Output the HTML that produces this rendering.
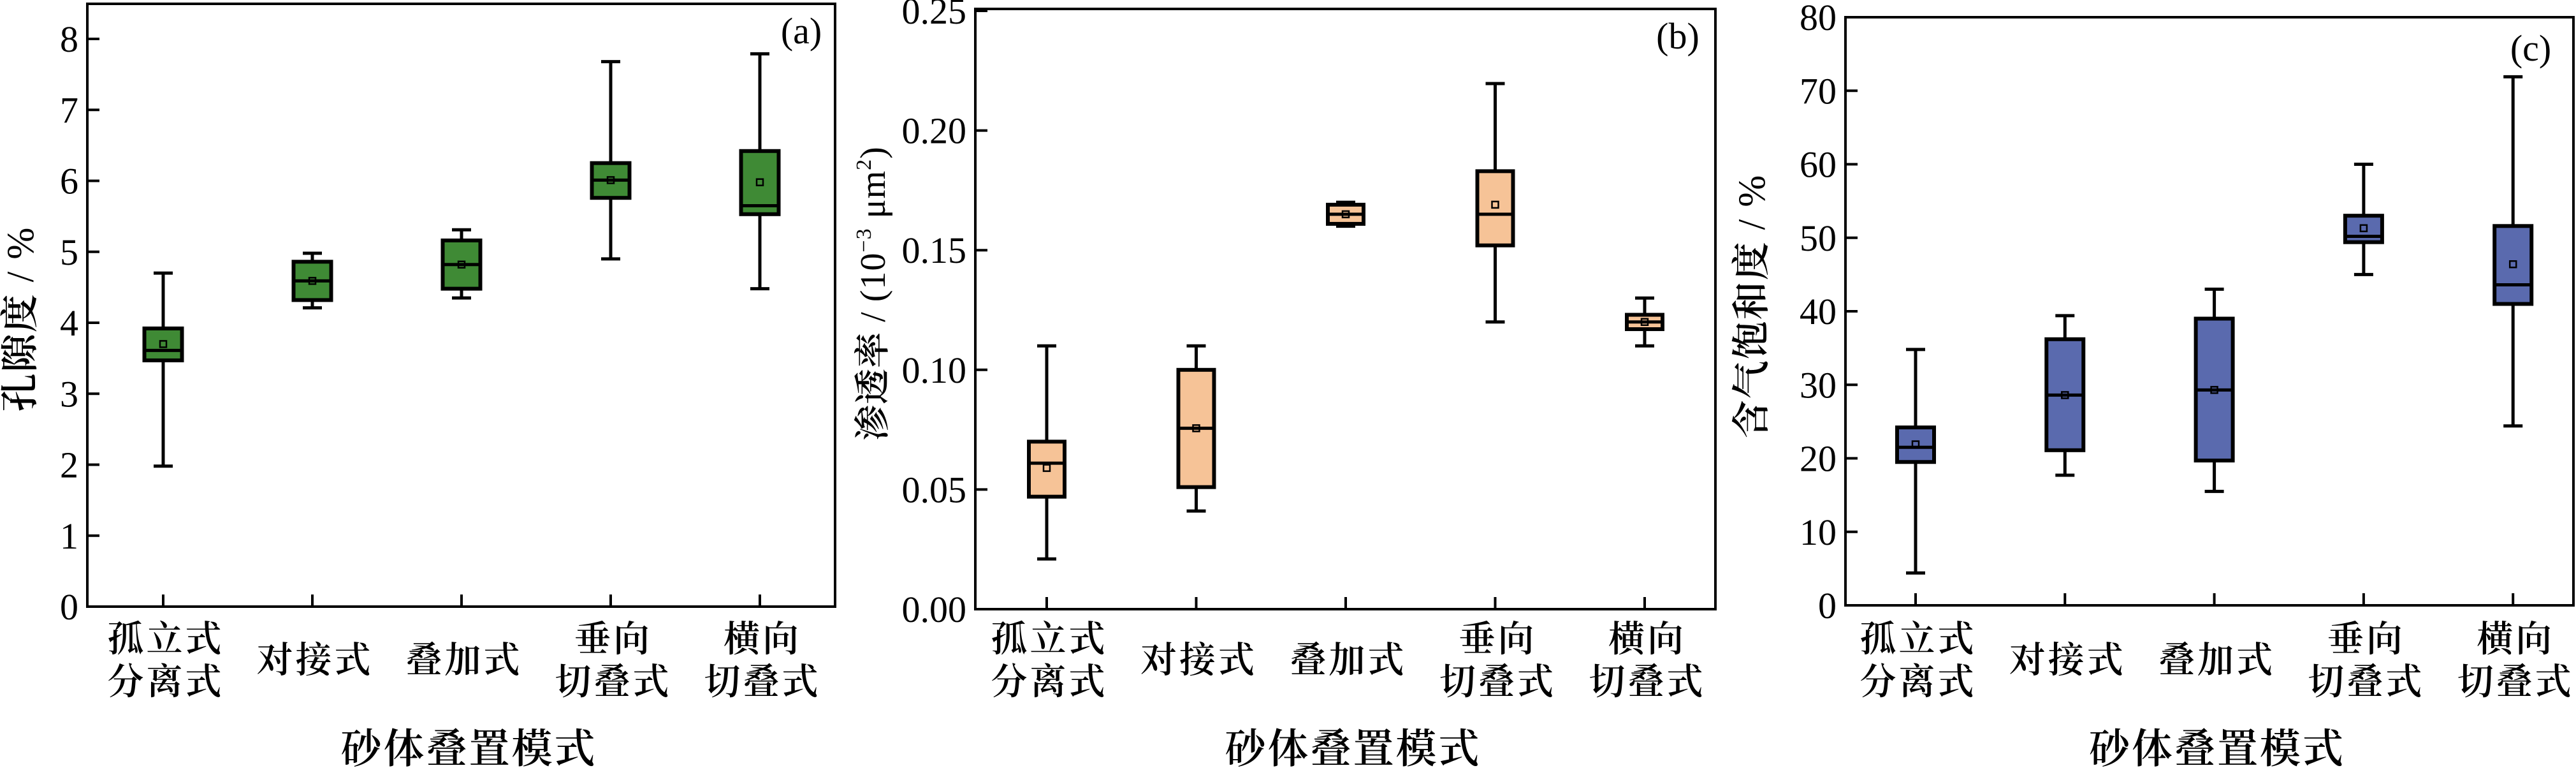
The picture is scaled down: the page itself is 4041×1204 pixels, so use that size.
<!DOCTYPE html>
<html><head><meta charset="utf-8"><style>
html,body{margin:0;padding:0;background:#fff;}
svg{display:block;}
text{font-family:"Liberation Serif","Noto Serif CJK SC","Noto Sans CJK SC",serif;fill:#000;}
</style></head><body>
<svg id="chart" width="4041" height="1204" viewBox="0 0 4041 1204" xmlns="http://www.w3.org/2000/svg"></svg>
<script>
const categories = ["孤立式\n分离式","对接式","叠加式","垂向\n切叠式","横向\n切叠式"];
// panel a: porosity %
const aWhiskerLow = [1.98,4.21,4.35,4.90,4.48];
const aQ1 = [3.47,4.32,4.48,5.76,5.53];
const aMedian = [3.61,4.59,4.82,6.01,5.65];
const aMean = [3.70,4.59,4.82,6.01,5.98];
const aQ3 = [3.92,4.86,5.16,6.25,6.42];
const aWhiskerHigh = [4.70,4.98,5.31,7.68,7.79];
const aTicks = ["0","1","2","3","4","5","6","7","8"];
// panel b: permeability
const bWhiskerLow = [0.021,0.041,0.160,0.120,0.110];
const bQ1 = [0.047,0.051,0.161,0.152,0.117];
const bMedian = [0.061,0.0756,0.165,0.165,0.120];
const bMean = [0.059,0.0756,0.165,0.169,0.120];
const bQ3 = [0.070,0.100,0.169,0.183,0.123];
const bWhiskerHigh = [0.110,0.110,0.170,0.2196,0.130];
const bTicks = ["0.00","0.05","0.10","0.15","0.20","0.25"];
// panel c: gas saturation %
const cWhiskerLow = [4.4,17.7,15.5,45.0,24.4];
const cQ1 = [19.5,21.1,19.7,49.4,41.0];
const cMedian = [21.5,28.6,29.3,50.2,43.6];
const cMean = [21.9,28.6,29.3,51.3,46.4];
const cQ3 = [24.2,36.2,39.0,53.0,51.6];
const cWhiskerHigh = [34.8,39.4,43.0,60.0,71.9];
const cTicks = ["0","10","20","30","40","50","60","70","80"];

const NS="http://www.w3.org/2000/svg";
const svg=document.getElementById('chart');
function mk(tag,attrs,parent){const e=document.createElementNS(NS,tag);for(const k in attrs)e.setAttribute(k,attrs[k]);(parent||svg).appendChild(e);return e;}

function panel(p){
  const g=mk('g',{});
  
  
  const y=v=>p.bottom-(v-p.ymin)/(p.ymax-p.ymin)*(p.bottom-p.ymaxPx);
  const x=i=>p.x0+i*p.dx;
  const frame=mk('rect',{x:p.left,y:p.top,width:p.right-p.left,height:p.bottom-p.top,fill:'none',stroke:'#000','stroke-width':4},g);
  
  
  p.ticks.forEach((t,i)=>{
    const v=p.ymin+i*p.step; const yy=y(v);
    const tk=mk('line',{x1:p.left,x2:p.left+19,y1:yy,y2:yy,stroke:'#000','stroke-width':4},g);
    
    
    const tl=mk('text',{x:p.left-14,y:yy+20,'font-size':58,'text-anchor':'end'},g);
    tl.textContent=t;
    
    
  });
  categories.forEach((c,i)=>{
    const xx=x(i);
    const tk=mk('line',{x1:xx,x2:xx,y1:p.bottom,y2:p.bottom-19,stroke:'#000','stroke-width':4},g);
    
    
    const lines=c.split('\n');
    const t=mk('text',{x:xx+4,'font-size':57,'font-weight':600,'text-anchor':'middle','letter-spacing':4},g);
    
    
    lines.forEach((ln,j)=>{
      const ts=mk('tspan',{x:xx+4,y:lines.length===1?1054:1021+j*67},t);ts.textContent=ln;
    });
    const ww=p.bw/2, cw=15;
    const wl=mk('line',{x1:xx,x2:xx,y1:y(p.wl[i]),y2:y(p.wh[i]),stroke:'#000','stroke-width':5},g);
    
    
    [p.wl[i],p.wh[i]].forEach(v=>{
      const cap=mk('line',{x1:xx-cw,x2:xx+cw,y1:y(v),y2:y(v),stroke:'#000','stroke-width':5},g);
      
      
    });
    const box=mk('rect',{x:xx-ww,y:y(p.q3[i]),width:p.bw,height:y(p.q1[i])-y(p.q3[i]),fill:p.color,stroke:'#000','stroke-width':6},g);
    
    
    const md=mk('line',{x1:xx-ww,x2:xx+ww,y1:y(p.med[i]),y2:y(p.med[i]),stroke:'#000','stroke-width':5},g);
    
    
    const mn=mk('rect',{x:xx-5,y:y(p.mean[i])-5,width:10,height:10,fill:'none',stroke:'#000','stroke-width':2.5},g);
    
    
  });
  const xt=mk('text',{x:(p.left+p.right)/2+12,y:1196,'font-size':64,'font-weight':600,'text-anchor':'middle','letter-spacing':3},g);
  xt.textContent='砂体叠置模式';
  
  
  const yt=mk('text',{x:0,y:0,'font-size':p.ytSize,'font-weight':600,'text-anchor':'middle','letter-spacing':p.ytls,transform:`translate(${p.ytx},${p.yty}) rotate(-90)`},g);
  yt.innerHTML=p.ytitle;
  
  
  const lb=mk('text',{x:p.labx,y:p.laby,'font-size':58,'text-anchor':'middle'},g);
  lb.textContent=p.label;
  
  
}

panel({id:'a',left:137,right:1310,top:6,bottom:951,ymin:0,ymax:8,ymaxPx:61,step:1,ticks:aTicks,x0:256,dx:234,bw:59,color:'#3f8a35',
  wl:aWhiskerLow,q1:aQ1,med:aMedian,mean:aMean,q3:aQ3,wh:aWhiskerHigh,ytitle:'孔隙度<tspan font-weight="normal"> / %</tspan>',ytSize:60,ytls:2,ytx:52,yty:500,label:'(a)',labx:1257,laby:68});
panel({id:'b',left:1530,right:2691,top:14,bottom:955,ymin:0,ymax:0.25,ymaxPx:17,step:0.05,ticks:bTicks,x0:1642,dx:234.5,bw:56,color:'#f6c397',
  wl:bWhiskerLow,q1:bQ1,med:bMedian,mean:bMean,q3:bQ3,wh:bWhiskerHigh,
  ytitle:'渗透率<tspan font-weight="normal"> / (10</tspan><tspan font-weight="normal" dy="-22" font-size="34">−3</tspan><tspan font-weight="normal" dy="22"> μm</tspan><tspan font-weight="normal" dy="-22" font-size="34">2</tspan><tspan font-weight="normal" dy="22">)</tspan>',ytSize:56,ytls:1,ytx:1388,yty:460,label:'(b)',labx:2632,laby:76});
panel({id:'c',left:2895,right:4037,top:27,bottom:949,ymin:0,ymax:80,ymaxPx:27,step:10,ticks:cTicks,x0:3005,dx:234.3,bw:58,color:'#5a6aae',
  wl:cWhiskerLow,q1:cQ1,med:cMedian,mean:cMean,q3:cQ3,wh:cWhiskerHigh,ytitle:'含气饱和度<tspan font-weight="normal"> / %</tspan>',ytSize:60,ytls:2,ytx:2768,yty:480,label:'(c)',labx:3970,laby:95});
</script>
</body></html>
